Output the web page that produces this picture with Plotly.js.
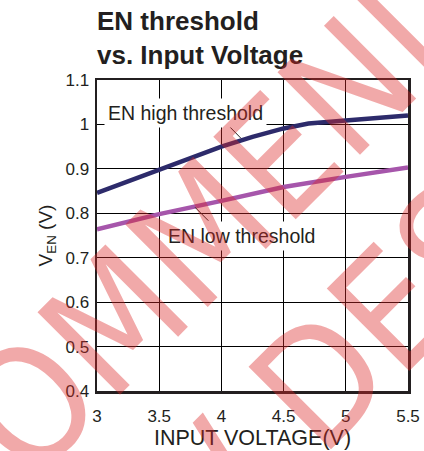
<!DOCTYPE html>
<html>
<head>
<meta charset="utf-8">
<script src="https://cdn.plot.ly/plotly-3.0.1.min.js"></script>
<style>html,body{margin:0;padding:0;background:#fff;}#chart{width:424px;height:451px;}</style>
</head>
<body>
<div id="chart"></div>
<script>
// Data
const inputVoltage = [3.0, 3.5, 4.0, 4.25, 4.5, 4.7, 5.0, 5.5];
const enHigh       = [0.846, 0.897, 0.950, 0.972, 0.991, 1.002, 1.009, 1.020];
const enLowX       = [3.0, 3.5, 4.0, 4.5, 5.0, 5.5];
const enLow        = [0.764, 0.798, 0.828, 0.859, 0.882, 0.903];
const xTicks = [3, 3.5, 4, 4.5, 5, 5.5];
const yTicks = [0.4, 0.5, 0.6, 0.7, 0.8, 0.9, 1, 1.1];
const labelHigh = "EN high threshold";
const labelLow = "EN low threshold";
const watermark1 = "NOT RECOMMENDED";
const watermark2 = "FOR NEW DESIGNS";

const traces = [
  {x: inputVoltage, y: enHigh, mode: 'lines', line: {color: '#2d2b6b', width: 4.5}, name: labelHigh, hoverinfo: 'skip'},
  {x: enLowX, y: enLow, mode: 'lines', line: {color: '#a656ab', width: 4.5}, name: labelLow, hoverinfo: 'skip'}
];

const font = 'Liberation Sans, Arial, sans-serif';
const ink = '#231f20';
const wmFont = {family: 'DejaVu Sans Condensed, DejaVu Sans', size: 160, color: 'rgba(220,40,40,0.4)'};
function px(x){return (x-97)/311;}
function py(y){return (391-y)/311;}
const layout = {
  width: 424, height: 451,
  margin: {l: 97, r: 16, t: 80, b: 60},
  paper_bgcolor: '#fff', plot_bgcolor: '#fff',
  showlegend: false,
  font: {family: font, color: ink},
  title: {
    text: '<b>EN threshold<br>vs. Input Voltage</b>',
    font: {family: font, size: 26, color: ink},
    xref: 'paper', x: 0, xanchor: 'left',
    yref: 'container', y: 0.934, yanchor: 'top'
  },
  xaxis: {
    range: [3, 5.5], tickvals: xTicks, ticktext: xTicks.map(String),
    showgrid: true, gridcolor: '#000', gridwidth: 1,
    showline: true, linecolor: ink, linewidth: 2.5, mirror: true,
    zeroline: false, ticks: '', ticklabelstandoff: 8,
    tickfont: {family: font, size: 17, color: ink},
    title: {text: 'INPUT VOLTAGE(V)', font: {family: font, size: 21.5, color: ink}, standoff: 4}
  },
  yaxis: {
    range: [0.4, 1.1], tickvals: yTicks, ticktext: yTicks.map(String),
    showgrid: true, gridcolor: '#000', gridwidth: 1,
    showline: true, linecolor: ink, linewidth: 2.5, mirror: true,
    zeroline: false, ticks: '', ticklabelstandoff: 2,
    tickfont: {family: font, size: 17, color: ink},
    title: {text: 'V<sub>EN</sub> (V)', font: {family: font, size: 19, color: ink}, standoff: 8}
  },
  shapes: [
    {type: 'line', xref: 'x', yref: 'y', x0: 4.029, y0: 1.0055, x1: 4.155, y1: 0.9695, line: {color: ink, width: 1}},
    {type: 'line', xref: 'x', yref: 'y', x0: 3.788, y0: 0.8135, x1: 3.895, y1: 0.7834, line: {color: ink, width: 1}}
  ],
  annotations: [
    {xref: 'x', yref: 'y', x: 3.711, y: 1.026, text: labelHigh, showarrow: false,
     font: {family: font, size: 19.5, color: ink}, bgcolor: '#fff', borderpad: 3},
    {xref: 'x', yref: 'y', x: 4.158, y: 0.749, text: labelLow, showarrow: false,
     font: {family: font, size: 19.5, color: ink}, bgcolor: '#fff', borderpad: 3},
    {xref: 'paper', yref: 'paper', x: px(70.6), y: py(365), xanchor: 'center', yanchor: 'middle',
     text: watermark1, showarrow: false, textangle: -45, font: wmFont},
    {xref: 'paper', yref: 'paper', x: px(252), y: py(449), xanchor: 'center', yanchor: 'middle',
     text: watermark2, showarrow: false, textangle: -45, font: wmFont}
  ]
};

Plotly.newPlot('chart', traces, layout, {staticPlot: true, displayModeBar: false});
</script>
</body>
</html>
